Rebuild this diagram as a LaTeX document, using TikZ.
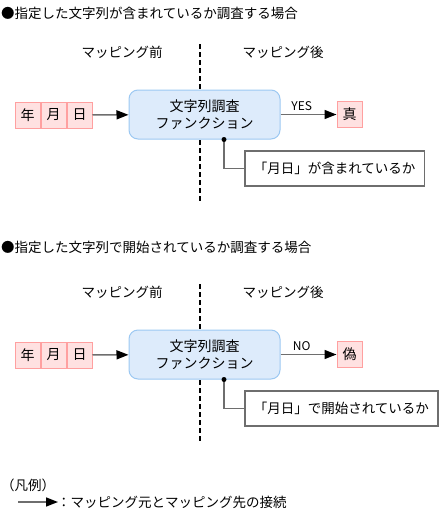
\documentclass[tikz,border=0pt]{standalone}
\usepackage{fontspec}
\setmainfont{Noto Sans CJK JP}
\usetikzlibrary{positioning,arrows.meta}
\definecolor{cellpink}{HTML}{FFE1E1}
\definecolor{celledge}{HTML}{FFA0A0}
\definecolor{funcblue}{HTML}{DDEBFB}
\definecolor{funcedge}{HTML}{9CC8F2}
\definecolor{linegray}{HTML}{6E6E6E}

\tikzset{
  title/.style={inner sep=0pt, font=\fontsize{13.5}{16}\selectfont},
  head/.style={inner sep=0pt, font=\fontsize{13.5}{16}\selectfont},
  tag/.style={inner sep=1pt, font=\fontsize{12}{14}\selectfont},
  cell/.style={draw=celledge, fill=cellpink, line width=1pt, minimum width=25pt,
    minimum height=26pt, inner sep=0pt, font=\fontsize{14}{16}\selectfont},
  func/.style={draw=funcedge, fill=funcblue, line width=1pt, rounded corners=9pt,
    minimum width=151pt, minimum height=49pt, align=center, inner sep=0pt,
    font=\fontsize{14}{17}\selectfont},
  note/.style={draw=linegray, line width=1.5pt, minimum height=35pt, inner xsep=9pt,
    font=\fontsize{13.5}{16}\selectfont},
  link/.style={draw=linegray, line width=1.5pt, -{Triangle[length=12pt,width=9pt,color=black]}},
  hint/.style={draw=linegray, line width=1.5pt},
  divider/.style={draw=black, line width=1.2pt, dash pattern=on 5pt off 3pt},
}

\begin{document}
\begin{tikzpicture}[x=1pt, y=-1pt]
    \useasboundingbox (0,0) rectangle (441,515);

    \foreach \off/\id/\cond/\lab/\res in {0/a/が含まれている/YES/真, 240/b/で開始されている/NO/偽} {
        \node[title, anchor=west] (title\id) at (1, 13+0.975*\off) {●指定した文字列\cond か調査する場合};
        \node[head] (pre\id) at (122, 52+\off) {マッピング前};
        \node[head] (post\id) at (283, 52+\off) {マッピング後};

        \coordinate (top\id) at (200, 44+\off);
        \coordinate (bot\id) at (200, 202+\off);
        \draw[divider] (top\id) -- (bot\id);

        \node[cell] (year\id) at (27.5, 115+\off) {年};
        \node[cell, right=0pt of year\id] (month\id) {月};
        \node[cell, right=0pt of month\id] (day\id) {日};
        \node[func] (func\id) at (204.5, 114.5+\off) {文字列調査\\ファンクション};
        \node[cell, right=56pt of func\id] (res\id) {\res};

        \draw[link] (day\id) -- (func\id);
        \draw[link] (func\id) -- node[above=2pt, pos=0.38, tag] {\lab} (res\id);

        \coordinate (dot\id) at ([xshift=19.5pt]func\id.south);
        \node[note, anchor=west] (note\id) at (244, 168.5+\off) {「月日」\cond か};
        \draw[hint] (dot\id) |- (note\id.west);
        \fill (dot\id) circle[radius=2.5pt];
    }

    % legend
    \node[head, anchor=west] (legend) at (1, 485) {（凡例）};
    \coordinate (from) at (18, 502);
    \coordinate (to) at (58, 502);
    \draw[link] (from) -- (to);
    \node[head, anchor=west] (legendtext) at (57, 502) {：マッピング元とマッピング先の接続};
\end{tikzpicture}
\end{document}
